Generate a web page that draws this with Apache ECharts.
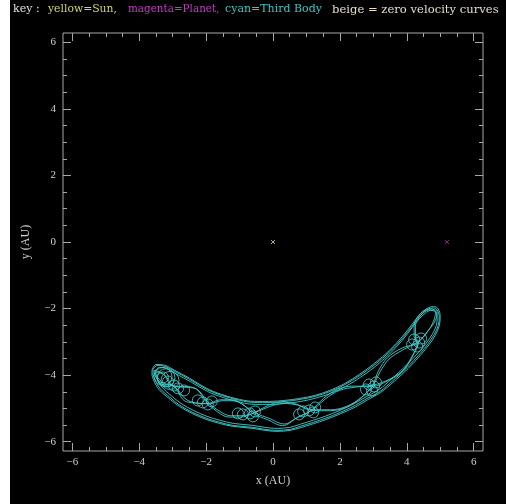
<!DOCTYPE html>
<html>
<head>
<meta charset="utf-8">
<script src="https://cdn.jsdelivr.net/npm/echarts@6/dist/echarts.min.js"></script>
<style>
  html, body { margin: 0; padding: 0; background: #000; }
  #chart { width: 506px; height: 504px; }
</style>
</head>
<body>
<div id="chart"></div>
<script>
// Axis ticks (AU)
const majorTicks = [-6, -4, -2, 0, 2, 4, 6];
const minorTicks = [-5.5, -5, -4.5, -3.5, -3, -2.5, -1.5, -1, -0.5, 0.5, 1, 1.5, 2.5, 3, 3.5, 4.5, 5, 5.5];

// Colour key along the top
const keyTexts = ['key :', 'yellow=Sun,', 'magenta=Planet,', 'cyan=Third Body', 'beige = zero velocity curves'];

// Bodies in the rotating frame (AU)
const sunPos = [[0, 0]];
const planetPos = [[5.2, 0]];

// Third body: outer envelope of the tadpole band (closed)
const envelopeA = [
  [-3.59, -3.83], [-3.47, -3.71], [-3.23, -3.74], [-2.93, -3.89], [-2.49, -4.13], [-1.98, -4.43],
  [-1.53, -4.61], [-0.99, -4.76], [-0.54, -4.82], [-0.09, -4.82], [0.36, -4.79], [0.81, -4.73],
  [1.26, -4.64], [1.71, -4.49], [2.16, -4.28], [2.60, -4.01], [3.05, -3.68], [3.50, -3.29],
  [3.89, -2.87], [4.19, -2.49], [4.40, -2.22], [4.61, -2.04], [4.79, -1.98], [4.91, -2.04],
  [4.97, -2.25], [4.94, -2.51], [4.82, -2.78], [4.64, -3.05], [4.40, -3.35], [4.01, -3.77],
  [3.59, -4.16], [3.20, -4.49], [2.81, -4.70], [2.46, -4.91], [2.01, -5.12], [1.56, -5.30],
  [1.20, -5.42], [0.81, -5.54], [0.51, -5.63], [0.12, -5.66], [-0.24, -5.63], [-0.60, -5.57],
  [-1.20, -5.51], [-1.59, -5.42], [-1.98, -5.30], [-2.40, -5.12], [-2.78, -4.91], [-3.08, -4.67],
  [-3.38, -4.40], [-3.53, -4.13], [-3.59, -3.92], [-3.59, -3.83]
];

// A slightly narrower second circuit of the envelope
const envelopeB = [
  [-3.52, -3.86], [-3.40, -3.77], [-3.18, -3.80], [-2.90, -3.96], [-2.46, -4.20], [-1.96, -4.49],
  [-1.50, -4.67], [-0.97, -4.82], [-0.52, -4.88], [-0.07, -4.88], [0.38, -4.85], [0.83, -4.79],
  [1.28, -4.69], [1.72, -4.55], [2.17, -4.34], [2.61, -4.07], [3.06, -3.74], [3.49, -3.36],
  [3.87, -2.95], [4.17, -2.56], [4.39, -2.29], [4.60, -2.10], [4.77, -2.05], [4.87, -2.10],
  [4.91, -2.28], [4.88, -2.52], [4.77, -2.76], [4.59, -3.03], [4.35, -3.32], [3.97, -3.72],
  [3.56, -4.10], [3.18, -4.43], [2.80, -4.64], [2.44, -4.85], [2.00, -5.06], [1.55, -5.24],
  [1.19, -5.36], [0.80, -5.48], [0.50, -5.57], [0.12, -5.60], [-0.24, -5.57], [-0.60, -5.51],
  [-1.19, -5.45], [-1.58, -5.36], [-1.97, -5.24], [-2.38, -5.06], [-2.75, -4.85], [-3.04, -4.62],
  [-3.32, -4.36], [-3.47, -4.10], [-3.52, -3.93], [-3.52, -3.86]
];

// A slightly wider third circuit
const envelopeC = [
  [-3.62, -3.86], [-3.50, -3.68], [-3.25, -3.70], [-2.95, -3.85], [-2.50, -4.09], [-2.00, -4.39],
  [-1.54, -4.58], [-1.00, -4.73], [-0.55, -4.79], [-0.10, -4.79], [0.35, -4.76], [0.80, -4.70],
  [1.25, -4.61], [1.70, -4.46], [2.15, -4.25], [2.58, -3.98], [3.03, -3.65], [3.48, -3.26],
  [3.87, -2.84], [4.17, -2.46], [4.38, -2.19], [4.60, -2.00], [4.80, -1.94], [4.94, -2.01],
  [5.00, -2.24], [4.97, -2.52], [4.85, -2.81], [4.67, -3.08], [4.43, -3.38], [4.04, -3.80],
  [3.62, -4.19], [3.22, -4.52], [2.83, -4.74], [2.48, -4.95], [2.02, -5.16], [1.57, -5.34],
  [1.21, -5.46], [0.82, -5.58], [0.51, -5.66], [0.12, -5.69], [-0.24, -5.66], [-0.60, -5.60],
  [-1.20, -5.54], [-1.60, -5.45], [-2.00, -5.33], [-2.42, -5.15], [-2.80, -4.94], [-3.11, -4.70],
  [-3.41, -4.43], [-3.57, -4.15], [-3.62, -3.95], [-3.62, -3.86]
];

// Epicyclic passes crossing at the loop clusters
const passA = [
  [-3.56, -3.86], [-3.29, -3.95], [-3.02, -4.31], [-2.38, -4.37], [-1.95, -4.85], [-1.65, -5.11],
  [-1.33, -5.26], [-0.98, -5.26], [-0.60, -5.15], [-0.17, -4.92], [0.25, -4.81], [0.69, -4.87],
  [1.14, -5.06], [1.67, -5.07], [2.16, -4.98], [2.59, -4.72], [2.96, -4.34], [3.16, -3.86],
  [3.43, -3.47], [3.83, -3.20], [4.31, -3.02], [4.64, -2.66], [4.85, -2.37], [4.91, -2.10],
  [4.67, -2.01], [4.40, -2.16], [4.22, -2.51], [4.22, -2.84], [4.31, -3.02], [4.12, -3.50],
  [3.85, -3.90], [3.45, -4.16], [2.96, -4.34], [2.43, -4.33], [1.94, -4.42], [1.52, -4.69],
  [1.14, -5.06], [0.71, -5.29], [0.29, -5.52], [-0.16, -5.34], [-0.60, -5.15], [-0.89, -4.89],
  [-1.21, -4.74], [-1.57, -4.74], [-1.95, -4.85], [-2.59, -4.80], [-3.02, -4.31], [-3.32, -4.28],
  [-3.53, -4.01], [-3.56, -3.86]
];

const passB = [
  [-3.50, -3.90], [-3.24, -4.00], [-2.96, -4.33], [-2.33, -4.40], [-1.90, -4.86], [-1.60, -5.08],
  [-1.28, -5.22], [-0.93, -5.22], [-0.55, -5.13], [-0.12, -4.95], [0.30, -4.85], [0.74, -4.90],
  [1.19, -5.04], [1.72, -5.04], [2.20, -4.94], [2.63, -4.68], [3.00, -4.30], [3.20, -3.90],
  [3.47, -3.52], [3.87, -3.25], [4.35, -3.00], [4.62, -2.70], [4.80, -2.38], [4.86, -2.12],
  [4.66, -2.04], [4.42, -2.20], [4.26, -2.53], [4.26, -2.86], [4.35, -3.00], [4.16, -3.46],
  [3.89, -3.86], [3.49, -4.12], [3.00, -4.30], [2.47, -4.36], [1.98, -4.46], [1.56, -4.72],
  [1.19, -5.04], [0.76, -5.25], [0.33, -5.47], [-0.11, -5.30], [-0.55, -5.13], [-0.85, -4.92],
  [-1.17, -4.77], [-1.52, -4.77], [-1.90, -4.86], [-2.55, -4.76], [-2.96, -4.33], [-3.27, -4.24],
  [-3.48, -4.02], [-3.50, -3.90]
];

// Small retrograde loops at the crossings
const loopCentres = [
  [4.22, -2.93], [4.37, -3.02], [4.31, -3.14], [4.43, -2.90], [4.16, -3.08],
  [2.87, -4.28], [3.02, -4.34], [2.96, -4.46], [3.08, -4.22], [2.78, -4.43],
  [0.90, -5.09], [1.08, -5.06], [1.20, -5.12], [0.78, -5.18], [1.26, -4.97],
  [-0.90, -5.18], [-0.69, -5.15], [-0.54, -5.09], [-0.60, -5.24], [-1.05, -5.15],
  [-2.10, -4.82], [-1.95, -4.88], [-1.83, -4.79], [-2.25, -4.76],
  [-3.14, -4.19], [-2.96, -4.31], [-2.84, -4.40], [-3.29, -4.07], [-2.66, -4.46]
];
const wideLoopCentres = [[-3.29, -4.04], [-3.08, -4.16], [-3.20, -4.08]];

const CYAN = '#44caca';
const FRAME = '#a8a8a8';
const TEXT = '#cfcfcf';
const SERIF = '"Liberation Serif", "DejaVu Serif", serif';
const KEY_FONT = '"DejaVu Serif", serif';
const KEY_COLOURS = ['#e2e2e2', '#d2d66a', '#c23ac2', '#3fc4c4', '#e6dcc8'];
const KEY_X = [13, 48, 128, 225, 332];
const KEY_SIZE = [11, 10.8, 10.4, 11, 11.6];

const fmt = v => (v < 0 ? '\u2212' + (-v) : String(v));

function axisPair(kind, pos, withLabels) {
  const base = {
    type: 'value', min: -6.28, max: 6.28, position: pos,
    axisLine: { show: false, onZero: false }, splitLine: { show: false }
  };
  const major = Object.assign({}, base, {
    axisTick: { show: true, inside: true, length: 8, customValues: majorTicks,
      lineStyle: { color: FRAME, width: 1 } },
    axisLabel: withLabels
      ? { show: true, customValues: majorTicks, formatter: fmt, color: TEXT,
          fontFamily: SERIF, fontSize: 11, margin: kind === 'x' ? 6 : 7 }
      : { show: false }
  });
  const minor = Object.assign({}, base, {
    axisTick: { show: true, inside: true, length: 4, customValues: minorTicks,
      lineStyle: { color: FRAME, width: 1 } },
    axisLabel: { show: false }
  });
  if (withLabels) {
    Object.assign(major, {
      name: kind === 'x' ? 'x (AU)' : 'y (AU)',
      nameLocation: 'middle',
      nameGap: kind === 'x' ? 24 : 31,
      nameTextStyle: { color: TEXT, fontFamily: SERIF, fontSize: 12 }
    });
  }
  return [major, minor];
}

const strand = (data) => ({
  type: 'line', data, smooth: 0.35, showSymbol: false, silent: true,
  lineStyle: { color: CYAN, width: 1, opacity: 0.9 }, z: 3
});

const keyGraphics = keyTexts.map((t, i) => ({
  type: 'text', left: KEY_X[i], top: 4, z: 100,
  style: { text: t, fill: KEY_COLOURS[i], font: KEY_SIZE[i] + 'px ' + KEY_FONT }
}));

const chart = echarts.init(document.getElementById('chart'), null, { renderer: 'canvas' });
chart.setOption({
  animation: false,
  backgroundColor: '#000',
  graphic: [
    { type: 'rect', shape: { x: 0, y: 0, width: 10, height: 504 }, style: { fill: '#fff' }, z: 100 },
    ...keyGraphics
  ],
  grid: { left: 63, right: 23, top: 33, bottom: 53, show: true,
    borderColor: FRAME, borderWidth: 1, backgroundColor: 'transparent' },
  xAxis: [...axisPair('x', 'bottom', true), ...axisPair('x', 'top', false)],
  yAxis: [...axisPair('y', 'left', true), ...axisPair('y', 'right', false)],
  series: [
    strand(envelopeA),
    strand(envelopeB),
    strand(envelopeC),
    strand(passA),
    strand(passB),
    {
      type: 'scatter', data: loopCentres, symbol: 'circle', symbolSize: 11, silent: true,
      itemStyle: { color: 'transparent', borderColor: CYAN, borderWidth: 1, opacity: 0.85 }, z: 4
    },
    {
      type: 'scatter', data: wideLoopCentres, symbol: 'circle', symbolSize: 18, silent: true,
      itemStyle: { color: 'transparent', borderColor: CYAN, borderWidth: 1, opacity: 0.85 }, z: 4
    },
    {
      type: 'scatter', data: sunPos, symbol: 'path://M0,0L10,10M10,0L0,10', symbolSize: 4, silent: true,
      itemStyle: { color: 'transparent', borderColor: '#d8d890', borderWidth: 1 }, z: 5
    },
    {
      type: 'scatter', data: planetPos, symbol: 'path://M0,0L10,10M10,0L0,10', symbolSize: 4, silent: true,
      itemStyle: { color: 'transparent', borderColor: '#b03ab0', borderWidth: 1 }, z: 5
    }
  ]
});
</script>
</body>
</html>
